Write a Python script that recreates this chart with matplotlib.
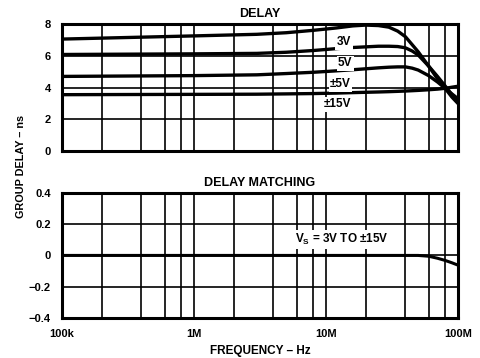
import matplotlib.pyplot as plt
from matplotlib.ticker import FixedLocator, NullLocator

plt.rcParams['font.family'] = ['Liberation Sans', 'DejaVu Sans']
plt.rcParams['font.weight'] = 'bold'
plt.rcParams['mathtext.fontset'] = 'custom'
plt.rcParams['mathtext.rm'] = 'Liberation Sans:bold'
plt.rcParams['mathtext.bf'] = 'Liberation Sans:bold'

# group delay vs frequency, one curve per supply voltage
freq = [1e5, 1e6, 3e6, 5e6, 8e6, 1.2e7, 1.6e7, 2e7, 2.5e7, 3e7, 3.5e7, 4e7,
        4.5e7, 5e7, 6e7, 7e7, 8e7, 9e7, 1e8]
delay_3v = [7.05, 7.25, 7.35, 7.45, 7.6, 7.75, 7.88, 7.93, 7.9, 7.8, 7.55, 7.2,
            6.7, 6.25, 5.35, 4.55, 3.95, 3.4, 3.0]
delay_5v = [6.08, 6.12, 6.15, 6.22, 6.33, 6.45, 6.52, 6.56, 6.6, 6.6, 6.58, 6.5,
            6.3, 6.05, 5.35, 4.7, 4.1, 3.55, 3.1]
delay_pm5v = [4.7, 4.75, 4.8, 4.88, 4.96, 5.05, 5.12, 5.18, 5.24, 5.28, 5.3, 5.3,
              5.22, 5.1, 4.75, 4.35, 3.95, 3.6, 3.3]
delay_pm15v = [3.55, 3.57, 3.58, 3.6, 3.62, 3.65, 3.68, 3.7, 3.72, 3.74, 3.76, 3.78,
               3.8, 3.82, 3.86, 3.9, 3.95, 4.02, 4.08]
curve_labels = ['3V', '5V', '±5V', '±15V']
label_pos = [(1.37e7, 6.86), (1.4e7, 5.53), (1.29e7, 4.2), (1.23e7, 2.94)]

# delay matching between channels
match_freq = [1e5, 1e6, 1e7, 5e7, 6e7, 7e7, 8e7, 9e7, 1e8]
match_delay = [0, 0, 0, 0, -0.005, -0.018, -0.032, -0.047, -0.062]

xticks = [1e5, 1e6, 1e7, 1e8]
xticklabels = ['100k', '1M', '10M', '100M']
grid_x = [m * 10**d for d in range(5, 8) for m in (1, 2, 4, 6, 8)] + [1e8]

fig = plt.figure(figsize=(4.8, 3.58), dpi=100)
ax1 = fig.add_axes([0.129, 0.578, 0.825, 0.355])
ax2 = fig.add_axes([0.129, 0.112, 0.825, 0.349])

for ax in (ax1, ax2):
    ax.set_xscale('log')
    ax.set_xlim(1e5, 1e8)
    for gx in grid_x:
        ax.axvline(gx, color='black', lw=1.2, zorder=1)
    ax.xaxis.set_minor_locator(NullLocator())
    ax.tick_params(length=0, labelsize=8, pad=8)
    for s in ax.spines.values():
        s.set_linewidth(2.2)

# top panel
for y in [2, 4, 6]:
    ax1.axhline(y, color='black', lw=1.2, zorder=1)
for d in (delay_3v, delay_5v, delay_pm5v, delay_pm15v):
    ax1.plot(freq, d, color='black', lw=2.4, zorder=3)
for txt, (fx, fy) in zip(curve_labels, label_pos):
    ax1.text(fx, fy, txt, fontsize=8.5, ha='center', va='center', zorder=4,
             bbox=dict(facecolor='white', edgecolor='none', pad=1.0))
ax1.set_ylim(0, 8)
ax1.yaxis.set_major_locator(FixedLocator([0, 2, 4, 6, 8]))
ax1.set_xticks(xticks)
ax1.set_xticklabels([])
ax1.set_title('DELAY', fontsize=9, fontweight='bold', pad=5)

# bottom panel
for y in [-0.2, 0, 0.2]:
    ax2.axhline(y, color='black', lw=1.2, zorder=1)
ax2.plot(match_freq, match_delay, color='black', lw=2.2, zorder=3)
ax2.text(1.32e7, 0.1, r'$\mathrm{V_S}$ = 3V TO ±15V', fontsize=8.5, ha='center',
         va='center', zorder=4,
         bbox=dict(facecolor='white', edgecolor='none', pad=1.5))
ax2.set_ylim(-0.4, 0.4)
ax2.yaxis.set_major_locator(FixedLocator([-0.4, -0.2, 0, 0.2, 0.4]))
ax2.set_yticklabels(['−0.4', '−0.2', '0', '0.2', '0.4'])
ax2.set_xticks(xticks)
ax2.set_xticklabels(xticklabels)
ax2.set_title('DELAY MATCHING', fontsize=9, fontweight='bold', pad=5)
ax2.set_xlabel('FREQUENCY – Hz', fontsize=8.5, fontweight='bold', labelpad=4)

fig.text(0.044, 0.535, 'GROUP DELAY – ns', rotation=90, fontsize=7.8,
         fontweight='bold', ha='center', va='center')

fig.savefig('out.png', dpi=100)
